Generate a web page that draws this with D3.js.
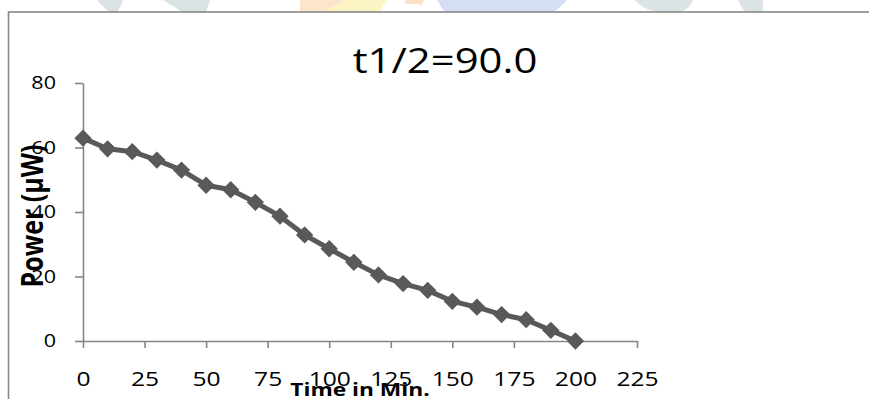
<!DOCTYPE html>
<html>
<head>
<meta charset="utf-8">
<script src="https://cdn.jsdelivr.net/npm/d3@7"></script>
<style>
  html, body { margin: 0; padding: 0; background: #ffffff; }
  svg { display: block; }
  text { font-family: "Open Sans", "Noto Sans", sans-serif; fill: #000; }
</style>
</head>
<body>
<svg id="chart" width="869" height="399"></svg>
<script>
// Power readings over time
const timeMin = [0, 10, 20, 30, 40, 50, 60, 70, 80, 90, 100, 110, 120, 130, 140, 150, 160, 170, 180, 190, 200];
const powerUW = [62.9, 59.6, 58.7, 56.1, 53.0, 48.3, 46.9, 43.0, 38.7, 32.9, 28.6, 24.4, 20.5, 17.8, 15.7, 12.3, 10.5, 8.2, 6.6, 3.3, 0.0];
const xTicks = [0, 25, 50, 75, 100, 125, 150, 175, 200, 225];
const yTicks = [0, 20, 40, 60, 80];
const titleText = "t1/2=90.0";
const xTitle = "Time in Min.";
const yTitle = "Power (\u03bcW)";

const SX = 1.23;               // horizontal glyph stretch
const axisColor = "#868686";
const seriesColor = "#595959";

const svg = d3.select("#chart");

// faint logo shapes peeking above the frame
const wm = svg.append("g");
const wmShapes = [
  { c: "#dbe3e6", d: "M97,0 L123,0 Q121,7 117,12 L109,12 Q102,6 97,0 Z" },
  { c: "#dbe3e6", d: "M163,0 L210,0 L206,12 L183,12 Q172,6 163,0 Z" },
  { c: "#fde5cc", d: "M300,0 L345,0 L336,12 L300,12 Z" },
  { c: "#fdf4c6", d: "M322,12 L345,0 L388,0 Q382,6 380,12 Z" },
  { c: "#fde2c6", d: "M405,0 L424,0 L422,5 Q414,3 405,4 Z" },
  { c: "#d6def4", d: "M437,0 L567,0 Q560,8 553,12 L445,12 Q440,6 437,0 Z" },
  { c: "#dbe3e6", d: "M635,0 L693,0 Q690,10 678,12 L657,12 Q640,8 635,0 Z" },
  { c: "#dbe3e6", d: "M738,0 L763,0 L763,12 L745,12 Q740,6 738,0 Z" }
];
wm.selectAll("path").data(wmShapes).join("path")
  .attr("d", d => d.d).attr("fill", d => d.c);

// chart frame
svg.append("rect")
  .attr("x", 8.5).attr("y", 12)
  .attr("width", 900).attr("height", 500)
  .attr("fill", "#ffffff")
  .attr("stroke", "#878787").attr("stroke-width", 1.6);

const x = d3.scaleLinear().domain([0, 225]).range([83, 637]);
const y = d3.scaleLinear().domain([0, 80]).range([341, 83]);

// y axis
const gy = svg.append("g")
  .attr("transform", `translate(${x(0)},0)`)
  .call(d3.axisLeft(y).tickValues(yTicks).tickSizeInner(8).tickSizeOuter(0).tickPadding(14));
// x axis
const gx = svg.append("g")
  .attr("transform", `translate(0,${y(0)})`)
  .call(d3.axisBottom(x).tickValues(xTicks).tickSizeInner(7).tickSizeOuter(0).tickPadding(24));

[gx, gy].forEach(g => {
  g.select(".domain").attr("stroke", axisColor).attr("stroke-width", 1.6);
  g.selectAll(".tick line").attr("stroke", axisColor).attr("stroke-width", 1.6);
  g.selectAll(".tick text")
    .attr("fill", "#000")
    .style("font-family", "'Open Sans', sans-serif");
});
gy.selectAll(".tick text").style("font-size", "17.5px").attr("transform", `scale(${SX},1)`);
gx.selectAll(".tick text").style("font-size", "20px").attr("transform", `scale(${SX},1)`);

// series line
const line = d3.line().x((d, i) => x(timeMin[i])).y(d => y(d));
svg.append("path")
  .datum(powerUW)
  .attr("d", line)
  .attr("fill", "none")
  .attr("stroke", seriesColor)
  .attr("stroke-width", 5)
  .attr("stroke-linejoin", "round");

// diamond markers
svg.append("g").selectAll("path")
  .data(powerUW)
  .join("path")
  .attr("d", d3.symbol(d3.symbolSquare, 150))
  .attr("transform", (d, i) => `translate(${x(timeMin[i])},${y(d)}) rotate(45)`)
  .attr("fill", seriesColor);

// chart title
svg.append("text")
  .attr("transform", `translate(445,72.5) scale(${SX},1)`)
  .attr("text-anchor", "middle")
  .style("font-size", "34px")
  .text(titleText);

// axis titles
svg.append("text")
  .attr("transform", `translate(360,396) scale(${SX},1)`)
  .attr("text-anchor", "middle")
  .style("font-size", "18.5px")
  .style("font-weight", "bold")
  .text(xTitle);

svg.append("text")
  .attr("transform", `translate(43,216) scale(${SX},1) rotate(-90)`)
  .attr("text-anchor", "middle")
  .style("font-size", "25px")
  .style("font-weight", "bold")
  .text(yTitle);
</script>
</body>
</html>
